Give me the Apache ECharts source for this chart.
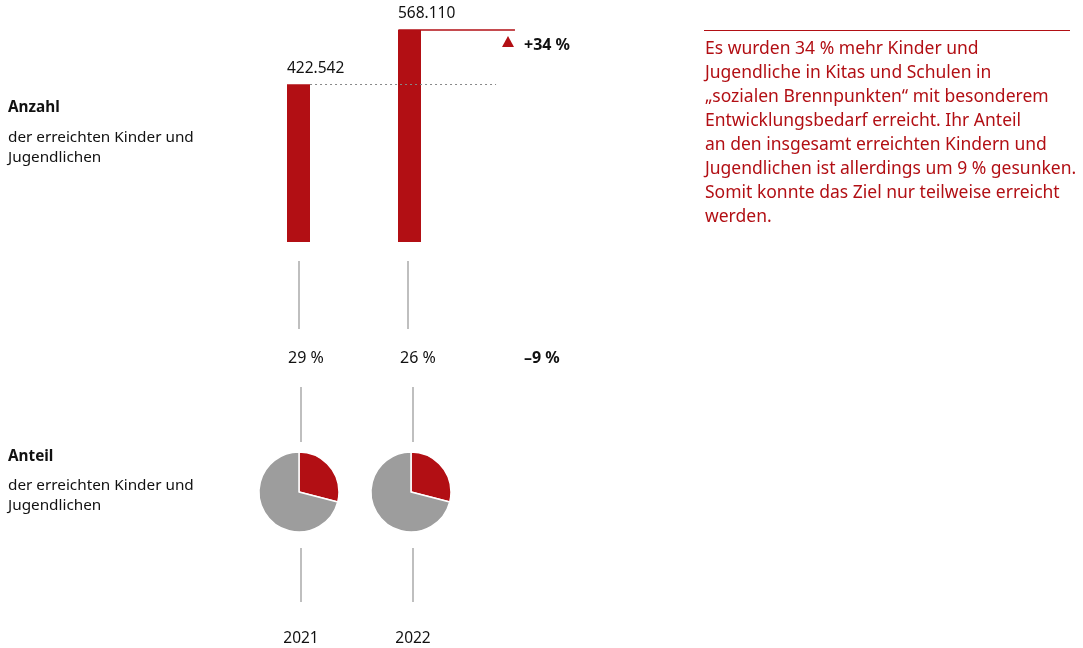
<!DOCTYPE html>
<html lang="de">
<head>
  <meta charset="UTF-8" />
  <title>Anzahl und Anteil der erreichten Kinder und Jugendlichen</title>
  <script src="https://cdn.jsdelivr.net/npm/echarts@6/dist/echarts.min.js"></script>
  <style>
    html, body { margin: 0; padding: 0; background: #fff; }
    #chart { width: 1083px; height: 648px; }
  </style>
</head>
<body>
  <div id="chart"></div>
  <script>
    // Daten
    const years = ['2021', '2022'];
    const counts = [422542, 568110];
    const shareLabels = [29, 26];          // Anteil in % (Beschriftung)
    const pieShare = [29, 29];             // Anteil, wie in den Kreisen gezeichnet
    const countChange = '+34 %';
    const shareChange = '–9 %';

    const RED = '#b20f14';
    const GREY = '#9d9d9d';
    const LINE = '#aaaaaa';
    const FONT = '"Noto Sans", "DejaVu Sans", sans-serif';

    const paragraph = [
      'Es wurden 34 % mehr Kinder und',
      'Jugendliche in Kitas und Schulen in',
      '„sozialen Brennpunkten“ mit besonderem',
      'Entwicklungsbedarf erreicht. Ihr Anteil',
      'an den insgesamt erreichten Kindern und',
      'Jugendlichen ist allerdings um 9 % gesunken.',
      'Somit konnte das Ziel nur teilweise erreicht',
      'werden.'
    ];

    function fmtDe(n) {
      return String(n).replace(/\B(?=(\d{3})+(?!\d))/g, '.');
    }

    const pieCenters = [[299, 492], [411, 492]];

    const chart = echarts.init(document.getElementById('chart'));

    const graphics = [];
    function text(x, y, str, opt) {
      graphics.push({
        type: 'text', left: x, top: y,
        style: Object.assign({ text: str, font: '15.3px ' + FONT, fill: '#111', verticalAlign: 'middle' }, opt || {})
      });
    }
    function vline(x, y1, y2) {
      graphics.push({
        type: 'line', shape: { x1: x, y1: y1, x2: x, y2: y2 },
        style: { stroke: LINE, lineWidth: 1.5 }
      });
    }

    // linke Beschriftungen
    text(8, 100, 'Anzahl', { font: 'bold 15.3px ' + FONT });
    text(8, 128, 'der erreichten Kinder und\nJugendlichen', { lineHeight: 20 });
    text(8, 449, 'Anteil', { font: 'bold 15.3px ' + FONT });
    text(8, 476, 'der erreichten Kinder und\nJugendlichen', { lineHeight: 20 });

    // Verbindungslinien und Prozentwerte
    vline(299, 261, 329);
    vline(408, 261, 329);
    pieCenters.forEach(function (c, i) {
      vline(c[0] + 2, 387, 442);
      vline(c[0] + 2, 548, 602);
      graphics.push({
        type: 'text', x: c[0] + 7, y: 358,
        style: { text: shareLabels[i] + ' %', font: '16px ' + FONT, fill: '#111', align: 'center', verticalAlign: 'middle' }
      });
      graphics.push({
        type: 'text', x: c[0] + 2, y: 639,
        style: { text: years[i], font: '15.5px ' + FONT, fill: '#111', align: 'center', verticalAlign: 'middle' }
      });
    });
    graphics.push({
      type: 'text', x: 524, y: 358,
      style: { text: shareChange, font: 'bold 16px ' + FONT, fill: '#111', verticalAlign: 'middle' }
    });
    graphics.push({
      type: 'text', x: 524, y: 45,
      style: { text: countChange, font: 'bold 16px ' + FONT, fill: '#111', verticalAlign: 'middle' }
    });
    graphics.push({
      type: 'polygon', shape: { points: [[508, 36], [514, 47], [502, 47]] },
      style: { fill: RED }
    });

    // rechter Textblock
    graphics.push({
      type: 'line', shape: { x1: 704, y1: 30.5, x2: 1070, y2: 30.5 },
      style: { stroke: RED, lineWidth: 1 }
    });
    graphics.push({
      type: 'text', left: 705, top: 37,
      style: { text: paragraph.join('\n'), font: '17.5px ' + FONT, fill: RED, lineHeight: 24 }
    });

    const pieSeries = pieCenters.map(function (c, i) {
      return {
        type: 'pie',
        center: c,
        radius: 40,
        startAngle: 90,
        clockwise: true,
        silent: true,
        label: { show: false },
        labelLine: { show: false },
        itemStyle: { borderColor: '#fff', borderWidth: 1.5 },
        data: [
          { value: pieShare[i], itemStyle: { color: RED } },
          { value: 100 - pieShare[i], itemStyle: { color: GREY } }
        ]
      };
    });

    chart.setOption({
      animation: false,
      grid: { left: 243, top: 30, width: 333, height: 212 },
      xAxis: { type: 'value', min: -0.5, max: 2.5, show: false },
      yAxis: { type: 'value', min: 0, max: counts[1], show: false },
      series: [
        {
          type: 'bar',
          barWidth: 23,
          silent: true,
          itemStyle: { color: RED },
          data: counts.map(function (v, i) { return [i, v]; }),
          label: {
            show: true,
            position: [0, -16],
            align: 'left',
            verticalAlign: 'middle',
            color: '#111',
            fontFamily: FONT,
            fontSize: 15.5,
            formatter: function (p) { return fmtDe(p.value[1]); }
          },
          markLine: {
            silent: true,
            symbol: 'none',
            label: { show: false },
            data: [
              [
                { coord: [0.104, counts[0]], lineStyle: { color: '#888', type: [2, 3], width: 1 } },
                { coord: [1.78, counts[0]] }
              ],
              [
                { coord: [0.9, counts[1]], lineStyle: { color: RED, type: 'solid', width: 1.5 } },
                { coord: [1.95, counts[1]] }
              ]
            ]
          }
        }
      ].concat(pieSeries),
      graphic: graphics
    });
  </script>
</body>
</html>
